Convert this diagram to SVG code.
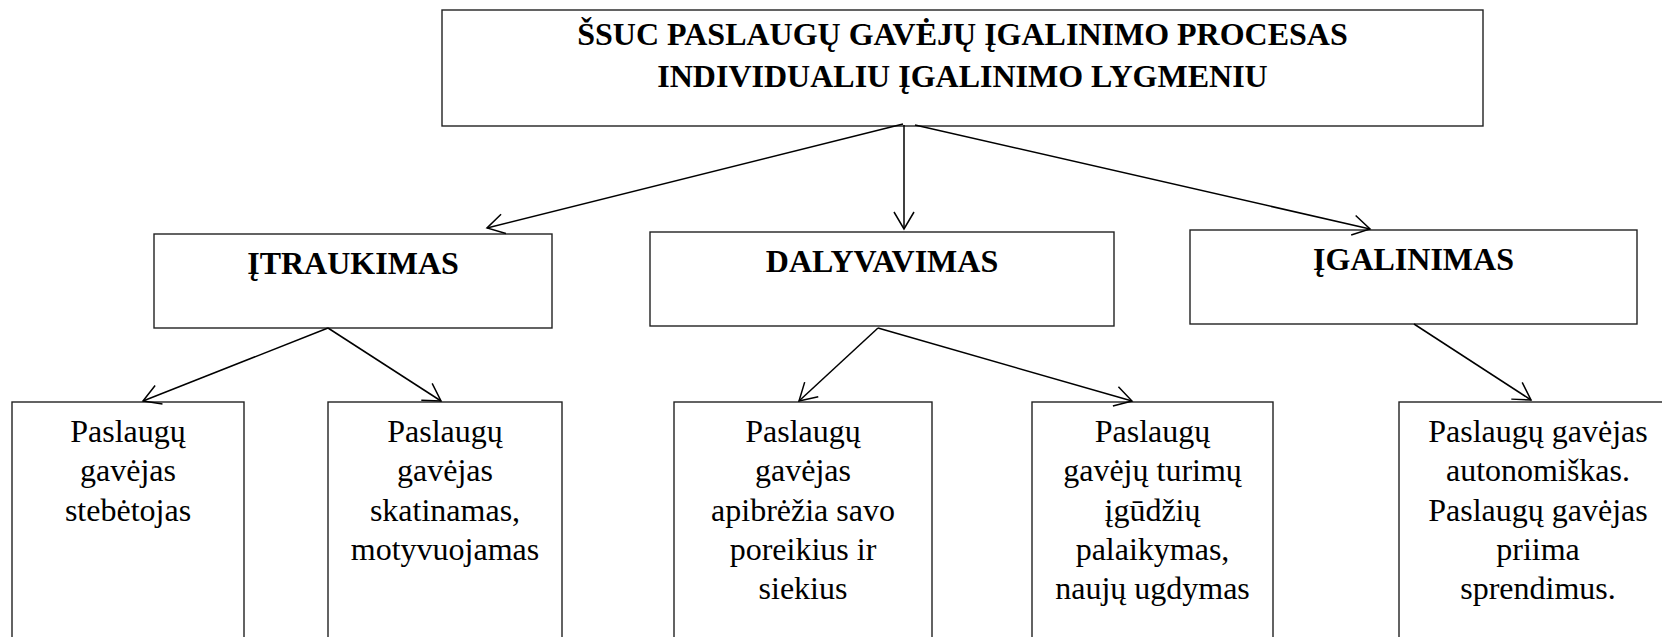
<svg xmlns="http://www.w3.org/2000/svg" width="1662" height="637" viewBox="0 0 1662 637">
<style>
  rect.box { fill: #fff; stroke: #222; stroke-width: 1.4; }
  .t { font-family: 'Liberation Serif', 'Tinos', 'Times New Roman', 'DejaVu Serif', serif; fill: #000; text-anchor: middle; }
  .head { font-size: 32px; font-weight: bold; }
  .body { font-size: 32px; font-weight: normal; }
  .conn line { stroke: #000; stroke-width: 1.5; fill: none; marker-end: url(#arr); }
</style>
<defs>
  <marker id="arr" viewBox="-20 -12 22 24" refX="0" refY="0" markerWidth="22" markerHeight="24" markerUnits="userSpaceOnUse" orient="auto">
    <path d="M-17,-10 L0,0 L-17,10" fill="none" stroke="#000" stroke-width="1.5"/>
  </marker>
</defs>
<rect width="1662" height="637" fill="#fff"/>

<g id="top">
  <rect class="box" x="442" y="10" width="1041" height="116"/>
  <text class="t head" font-family="Liberation Serif, serif" x="962.5" y="45">ŠSUC PASLAUGŲ GAVĖJŲ ĮGALINIMO PROCESAS</text>
  <text class="t head" font-family="Liberation Serif, serif" x="962.5" y="87">INDIVIDUALIU ĮGALINIMO LYGMENIU</text>
</g>

<g id="itraukimas">
  <rect class="box" x="154" y="234" width="398" height="94"/>
  <text class="t head" font-family="Liberation Serif, serif" x="353" y="274">ĮTRAUKIMAS</text>
</g>
<g id="dalyvavimas">
  <rect class="box" x="650" y="232" width="464" height="94"/>
  <text class="t head" font-family="Liberation Serif, serif" x="882" y="272">DALYVAVIMAS</text>
</g>
<g id="igalinimas">
  <rect class="box" x="1190" y="230" width="447" height="94"/>
  <text class="t head" font-family="Liberation Serif, serif" x="1413.5" y="270">ĮGALINIMAS</text>
</g>

<g id="b1" class="t body" font-family="Liberation Serif, serif">
  <rect class="box" x="12" y="402" width="232" height="250"/>
  <text x="128" y="442">Paslaugų</text>
  <text x="128" y="481">gavėjas</text>
  <text x="128" y="521">stebėtojas</text>
</g>
<g id="b2" class="t body" font-family="Liberation Serif, serif">
  <rect class="box" x="328" y="402" width="234" height="250"/>
  <text x="445" y="442">Paslaugų</text>
  <text x="445" y="481">gavėjas</text>
  <text x="445" y="521">skatinamas,</text>
  <text x="445" y="560">motyvuojamas</text>
</g>
<g id="b3" class="t body" font-family="Liberation Serif, serif">
  <rect class="box" x="674" y="402" width="258" height="250"/>
  <text x="803" y="442">Paslaugų</text>
  <text x="803" y="481">gavėjas</text>
  <text x="803" y="521">apibrėžia savo</text>
  <text x="803" y="560">poreikius ir</text>
  <text x="803" y="599">siekius</text>
</g>
<g id="b4" class="t body" font-family="Liberation Serif, serif">
  <rect class="box" x="1032" y="402" width="241" height="250"/>
  <text x="1152.5" y="442">Paslaugų</text>
  <text x="1152.5" y="481">gavėjų turimų</text>
  <text x="1152.5" y="521">įgūdžių</text>
  <text x="1152.5" y="560">palaikymas,</text>
  <text x="1152.5" y="599">naujų ugdymas</text>
</g>
<g id="b5" class="t body" font-family="Liberation Serif, serif">
  <rect class="box" x="1399" y="402" width="278" height="250"/>
  <text x="1538" y="442">Paslaugų gavėjas</text>
  <text x="1538" y="481">autonomiškas.</text>
  <text x="1538" y="521">Paslaugų gavėjas</text>
  <text x="1538" y="560">priima</text>
  <text x="1538" y="599">sprendimus.</text>
</g>

<g id="connectors" class="conn">
  <line x1="903" y1="124" x2="487" y2="228"/>
  <line x1="904" y1="125" x2="904" y2="229"/>
  <line x1="915" y1="125" x2="1370" y2="229"/>
  <line x1="328" y1="328" x2="143" y2="401"/>
  <line x1="328" y1="328" x2="441" y2="401"/>
  <line x1="878" y1="328" x2="799" y2="401"/>
  <line x1="878" y1="328" x2="1132" y2="401"/>
  <line x1="1414" y1="324" x2="1531" y2="400"/>
</g>
</svg>
